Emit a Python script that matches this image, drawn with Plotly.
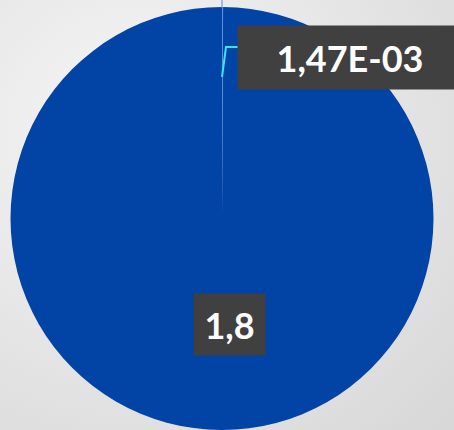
import base64
import plotly.graph_objects as go

# Data
labels = ["Small", "Large"]
values = [0.00147, 1.8]
label_texts = ["1,47E-03", "1,8"]
slice_colors = ["#5f8fdc", "#0243a6"]

W, H = 454, 430

svg = (
    "<svg xmlns='http://www.w3.org/2000/svg' width='454' height='430'>"
    "<defs><radialGradient id='g' cx='0.3' cy='0.3' r='0.95'>"
    "<stop offset='0' stop-color='#f6f6f6'/>"
    "<stop offset='1' stop-color='#d8d8d8'/>"
    "</radialGradient></defs>"
    "<rect width='454' height='430' fill='url(#g)'/></svg>"
)
bg_uri = "data:image/svg+xml;base64," + base64.b64encode(svg.encode()).decode()

fig = go.Figure()
fig.add_trace(go.Pie(
    labels=labels,
    values=values,
    sort=False,
    direction="clockwise",
    rotation=0,
    marker=dict(colors=slice_colors, line=dict(width=0)),
    textinfo="none",
    hoverinfo="label+value",
    showlegend=False,
    domain=dict(x=[9 / W, 435 / W], y=[0, 1 - 7 / H]),
))

def px(x):
    return x / W

def py(y):
    return 1 - y / H

# leader line from tiny slice to its label
fig.add_shape(type="path",
              path=f"M {px(222)} {py(77)} L {px(226)} {py(47)} L {px(238)} {py(47)}",
              xref="paper", yref="paper",
              line=dict(color="#35e6f2", width=2))
fig.add_shape(type="line", xref="paper", yref="paper",
              x0=px(222), x1=px(222), y0=py(0), y1=py(8),
              line=dict(color="#5b86cf", width=1))

font = dict(family="Lato, 'Open Sans', sans-serif", size=36, color="white")
fig.add_annotation(text=f"<b>{label_texts[0]}</b>", xref="paper", yref="paper",
                   x=px(350), y=py(57.5), xanchor="center", yanchor="middle",
                   showarrow=False, bgcolor="#404040", borderpad=4,
                   width=216, height=55, font=font)
fig.add_annotation(text=f"<b>{label_texts[1]}</b>", xref="paper", yref="paper",
                   x=px(229.5), y=py(324.5), xanchor="center", yanchor="middle",
                   showarrow=False, bgcolor="#404040", borderpad=4,
                   width=63, height=53, font=font)

fig.update_layout(
    width=W, height=H,
    margin=dict(l=0, r=0, t=0, b=0),
    paper_bgcolor="#e7e7e7",
    plot_bgcolor="#e7e7e7",
    images=[dict(source=bg_uri, xref="paper", yref="paper", x=0, y=1,
                 sizex=1, sizey=1, xanchor="left", yanchor="top",
                 sizing="stretch", layer="below")],
)

fig.write_html("out.html", config={"displayModeBar": False},
               post_script="document.body.style.margin='0';document.body.style.overflow='hidden';")
